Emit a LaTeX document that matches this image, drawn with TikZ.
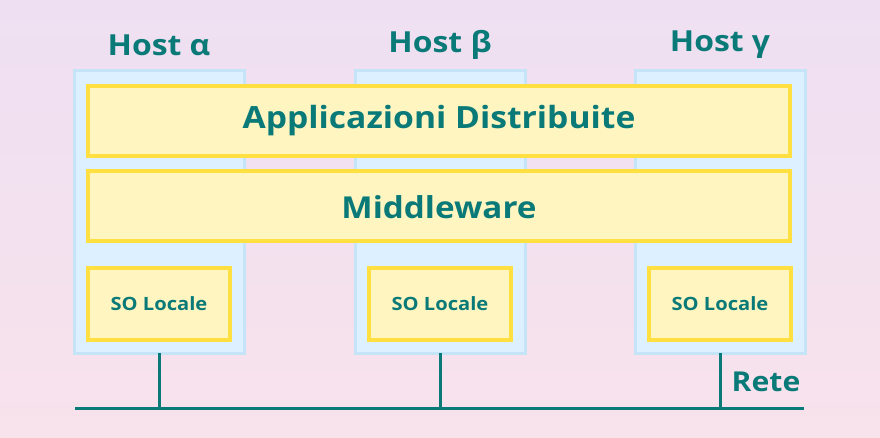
\documentclass[tikz,border=0pt]{standalone}
\usepackage{fontspec}
\setmainfont{Open Sans}
\newfontfamily\wide[FakeStretch=1.1]{Open Sans}
\definecolor{teal0}{HTML}{0A7A78}
\definecolor{hostfill}{HTML}{DDF0FF}
\definecolor{hostline}{HTML}{C6E4F8}
\definecolor{layfill}{HTML}{FFF5C0}
\definecolor{layline}{HTML}{FFE040}
\definecolor{bgtop}{HTML}{EEE0F2}
\definecolor{bgbot}{HTML}{F8E2EC}
\begin{document}
\begin{tikzpicture}[x=1pt,y=-1pt,
  hostbox/.style={draw=hostline,fill=hostfill,line width=3pt},
  layer/.style={draw=layline,fill=layfill,line width=3.5pt},
  lbl/.style={text=teal0,inner sep=0pt},
  hostlbl/.style={lbl,font=\wide\fontsize{29}{32}\bfseries\selectfont},
  net/.style={draw=teal0,line width=3pt}]
\shade[top color=bgtop,bottom color=bgbot] (0,0) rectangle (880,438);
\useasboundingbox (0,0) rectangle (880,438);
% hosts
\foreach \n/\x in {a/74,b/355,c/635}{
  \draw[hostbox] (\x,71) rectangle ++(170,282);
  \coordinate (bot\n) at (\x+85,353);
  \coordinate (gnd\n) at (\x+85,408);
}
\node[hostlbl] (ha) at (159,45) {Host α};
\node[hostlbl] (hb) at (440,45) {Host β};
\node[hostlbl] (hc) at (720,45) {Host γ};
% layers
\draw[layer] (88,86) rectangle (790,156);
\node[lbl,font=\wide\fontsize{30.6}{34}\bfseries\selectfont] (app) at (439,121) {Applicazioni Distribuite};
\draw[layer] (88,171) rectangle (790,241);
\node[lbl,font=\wide\fontsize{30.2}{34}\bfseries\selectfont] (mw) at (439,207) {Middleware};
\foreach \n/\x in {a/88,b/369,c/649}{
  \draw[layer] (\x,268) rectangle ++(142,72);
  \node[lbl,font=\wide\fontsize{18.3}{20}\bfseries\selectfont] (so\n) at (\x+71,304) {SO Locale};
}
% network
\coordinate (nl) at (75,408);
\coordinate (nr) at (804,408);
\draw[net] (nl) -- (nr);
\foreach \n in {a,b,c}{\draw[net] (bot\n) -- (gnd\n);}
\node[lbl,font=\wide\fontsize{27.4}{30}\bfseries\selectfont] (rete) at (766,382) {Rete};
\end{tikzpicture}
\end{document}
